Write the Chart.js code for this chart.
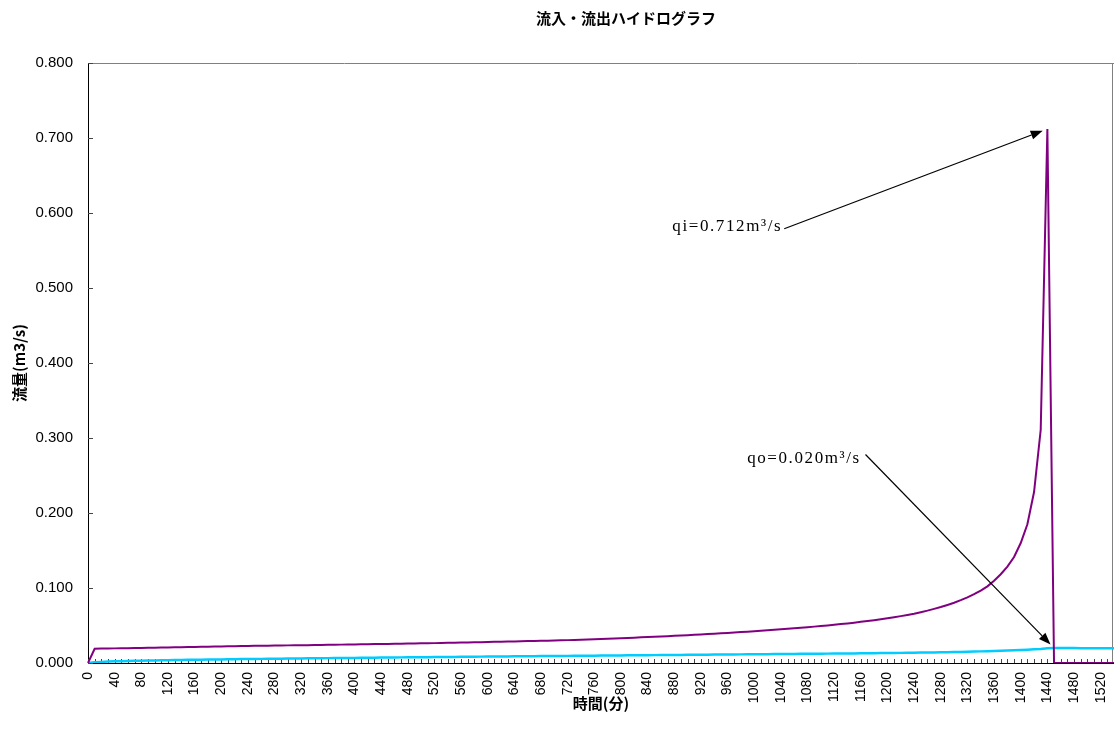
<!DOCTYPE html>
<html lang="ja">
<head>
<meta charset="utf-8">
<title>流入・流出ハイドログラフ</title>
<script src="https://cdn.jsdelivr.net/npm/chart.js@4.4.1/dist/chart.umd.min.js"></script>
<style>
    html, body { margin: 0; padding: 0; background: #fff; }
    canvas { display: block; }
</style>
</head>
<body>
<canvas id="hydroChart" width="1114" height="744"></canvas>
<script>
// 時間(分) — 10 minute steps
const minutes = [
    0, 10, 20, 30, 40, 50, 60, 70, 80, 90,
    100, 110, 120, 130, 140, 150, 160, 170, 180, 190,
    200, 210, 220, 230, 240, 250, 260, 270, 280, 290,
    300, 310, 320, 330, 340, 350, 360, 370, 380, 390,
    400, 410, 420, 430, 440, 450, 460, 470, 480, 490,
    500, 510, 520, 530, 540, 550, 560, 570, 580, 590,
    600, 610, 620, 630, 640, 650, 660, 670, 680, 690,
    700, 710, 720, 730, 740, 750, 760, 770, 780, 790,
    800, 810, 820, 830, 840, 850, 860, 870, 880, 890,
    900, 910, 920, 930, 940, 950, 960, 970, 980, 990,
    1000, 1010, 1020, 1030, 1040, 1050, 1060, 1070, 1080, 1090,
    1100, 1110, 1120, 1130, 1140, 1150, 1160, 1170, 1180, 1190,
    1200, 1210, 1220, 1230, 1240, 1250, 1260, 1270, 1280, 1290,
    1300, 1310, 1320, 1330, 1340, 1350, 1360, 1370, 1380, 1390,
    1400, 1410, 1420, 1430, 1440, 1450, 1460, 1470, 1480, 1490,
    1500, 1510, 1520, 1530, 1540
]

// 流入量 qi (m3/s)
const inflow = [
    0, 0.0190, 0.0192, 0.0193, 0.0195, 0.0196, 0.0198, 0.0199, 0.0201, 0.0203,
    0.0204, 0.0206, 0.0207, 0.0209, 0.0211, 0.0212, 0.0214, 0.0216, 0.0217, 0.0219,
    0.0221, 0.0223, 0.0224, 0.0226, 0.0228, 0.0229, 0.0230, 0.0231, 0.0233, 0.0234,
    0.0235, 0.0236, 0.0237, 0.0238, 0.0240, 0.0241, 0.0242, 0.0243, 0.0245, 0.0246,
    0.0247, 0.0249, 0.0250, 0.0252, 0.0253, 0.0254, 0.0256, 0.0258, 0.0259, 0.0261,
    0.0262, 0.0264, 0.0265, 0.0267, 0.0269, 0.0271, 0.0272, 0.0274, 0.0276, 0.0278,
    0.0280, 0.0282, 0.0284, 0.0286, 0.0288, 0.0290, 0.0292, 0.0294, 0.0296, 0.0298,
    0.0300, 0.0303, 0.0305, 0.0307, 0.0310, 0.0313, 0.0316, 0.0320, 0.0323, 0.0327,
    0.0330, 0.0334, 0.0338, 0.0342, 0.0346, 0.0350, 0.0354, 0.0358, 0.0362, 0.0367,
    0.0371, 0.0376, 0.0381, 0.0386, 0.0391, 0.0396, 0.0401, 0.0407, 0.0412, 0.0418,
    0.0424, 0.0430, 0.0437, 0.0443, 0.0450, 0.0457, 0.0463, 0.0470, 0.0477, 0.0485,
    0.0493, 0.0501, 0.0510, 0.0519, 0.0528, 0.0538, 0.0549, 0.0560, 0.0571, 0.0583,
    0.0596, 0.0610, 0.0625, 0.0641, 0.0658, 0.0678, 0.0698, 0.0722, 0.0746, 0.0774,
    0.0804, 0.0838, 0.0875, 0.0917, 0.0965, 0.1022, 0.1096, 0.1183, 0.1285, 0.1414,
    0.1600, 0.1850, 0.2280, 0.3110, 0.712, 0, 0, 0, 0, 0,
    0, 0, 0, 0, 0
]

// 流出量 qo (m3/s)
const outflow = [
    0, 0.0011, 0.0015, 0.0019, 0.0022, 0.0024, 0.0026, 0.0029, 0.0031, 0.0032,
    0.0034, 0.0036, 0.0037, 0.0039, 0.0040, 0.0042, 0.0043, 0.0044, 0.0046, 0.0047,
    0.0048, 0.0049, 0.0051, 0.0052, 0.0053, 0.0054, 0.0055, 0.0056, 0.0057, 0.0058,
    0.0059, 0.0060, 0.0061, 0.0062, 0.0063, 0.0064, 0.0065, 0.0066, 0.0067, 0.0067,
    0.0068, 0.0069, 0.0070, 0.0071, 0.0072, 0.0073, 0.0074, 0.0075, 0.0076, 0.0077,
    0.0077, 0.0078, 0.0079, 0.0080, 0.0081, 0.0081, 0.0082, 0.0083, 0.0084, 0.0085,
    0.0086, 0.0086, 0.0087, 0.0088, 0.0089, 0.0090, 0.0090, 0.0091, 0.0092, 0.0093,
    0.0094, 0.0094, 0.0095, 0.0096, 0.0097, 0.0098, 0.0098, 0.0099, 0.0100, 0.0101,
    0.0101, 0.0102, 0.0103, 0.0104, 0.0104, 0.0105, 0.0106, 0.0107, 0.0107, 0.0108,
    0.0109, 0.0110, 0.0110, 0.0111, 0.0112, 0.0113, 0.0113, 0.0114, 0.0115, 0.0116,
    0.0116, 0.0117, 0.0118, 0.0119, 0.0120, 0.0120, 0.0121, 0.0122, 0.0123, 0.0124,
    0.0124, 0.0125, 0.0126, 0.0127, 0.0128, 0.0128, 0.0129, 0.0130, 0.0131, 0.0132,
    0.0133, 0.0134, 0.0135, 0.0136, 0.0137, 0.0139, 0.0140, 0.0141, 0.0143, 0.0144,
    0.0146, 0.0148, 0.0150, 0.0152, 0.0155, 0.0157, 0.0160, 0.0163, 0.0166, 0.0169,
    0.0173, 0.0177, 0.0182, 0.0188, 0.0197, 0.0200, 0.0200, 0.0199, 0.0199, 0.0198,
    0.0198, 0.0197, 0.0197, 0.0196, 0.0196
]

const yTicks = [0, 0.1, 0.2, 0.3, 0.4, 0.5, 0.6, 0.7, 0.8]

// callouts: text anchored by its right edge (category index, value), arrow to a data point
const callouts = [
    { text: 'qi=0.712m³/s', series: inflow, index: 144, at: [104.2, 0.582], from: [104.5, 0.579] },
    { text: 'qo=0.020m³/s', series: outflow, index: 145, at: [116.0, 0.272], from: [116.7, 0.278] },
]

const jpFont = '"Noto Sans CJK JP", "Noto Sans", sans-serif'
const numFont = '"Liberation Sans", Arial, sans-serif'

const plotFrame = {
    id: 'plotFrame',
    beforeDatasetsDraw(chart) {
        const { ctx, chartArea: a, scales: { x, y } } = chart
        ctx.save()
        ctx.lineWidth = 1
        ctx.strokeStyle = '#808080'
        ctx.beginPath()
        ctx.moveTo(a.left, a.top + 0.5)
        ctx.lineTo(a.right, a.top + 0.5)
        ctx.moveTo(a.right - 1.5, a.top)
        ctx.lineTo(a.right - 1.5, a.bottom)
        ctx.stroke()

        // tick marks inside the plot, Excel style
        ctx.strokeStyle = '#444'
        ctx.beginPath()
        minutes.forEach((m, i) => {
            const px = Math.round(x.getPixelForValue(i)) + 0.5
            ctx.moveTo(px, a.bottom)
            ctx.lineTo(px, a.bottom - 4)
        })
        yTicks.forEach(v => {
            const py = Math.round(y.getPixelForValue(v)) + 0.5
            ctx.moveTo(a.left, py)
            ctx.lineTo(a.left + 5, py)
        })
        ctx.stroke()
        ctx.restore()
    },
    afterDraw(chart) {
        const { ctx, scales: { x, y } } = chart
        ctx.save()

        ctx.fillStyle = '#000'
        ctx.font = 'bold 15px ' + jpFont
        ctx.textAlign = 'center'
        ctx.textBaseline = 'middle'
        ctx.fillText('流入・流出ハイドログラフ', 626, 18)

        callouts.forEach(c => {
            const tx = x.getPixelForValue(c.at[0])
            const ty = y.getPixelForValue(c.at[1])
            ctx.font = '17px "Liberation Serif", "DejaVu Serif", serif'
            ctx.letterSpacing = '1.6px'
            ctx.textAlign = 'right'
            ctx.textBaseline = 'middle'
            ctx.fillText(c.text, tx, ty)
            ctx.letterSpacing = '0px'

            const sx = x.getPixelForValue(c.from[0])
            const sy = y.getPixelForValue(c.from[1])
            const px = x.getPixelForValue(c.index)
            const py = y.getPixelForValue(c.series[c.index])
            const len = Math.hypot(px - sx, py - sy)
            const ux = (px - sx) / len
            const uy = (py - sy) / len
            const ex = px - ux * 5
            const ey = py - uy * 5
            const head = 12
            const half = 4.5
            const bx = ex - ux * head
            const by = ey - uy * head

            ctx.strokeStyle = '#000'
            ctx.lineWidth = 1.2
            ctx.beginPath()
            ctx.moveTo(sx, sy)
            ctx.lineTo(bx, by)
            ctx.stroke()

            ctx.beginPath()
            ctx.moveTo(ex, ey)
            ctx.lineTo(bx - uy * half, by + ux * half)
            ctx.lineTo(bx + uy * half, by - ux * half)
            ctx.closePath()
            ctx.fill()
        })
        ctx.restore()
    }
}

const canvas = document.getElementById('hydroChart')

new Chart(canvas, {
    type: 'line',
    data: {
        labels: minutes,
        datasets: [
            {
                label: 'qi',
                data: inflow,
                borderColor: '#800080',
                borderWidth: 2,
                pointRadius: 0,
                tension: 0,
                fill: false,
            },
            {
                label: 'qo',
                data: outflow,
                borderColor: '#00CCFF',
                borderWidth: 2.5,
                pointRadius: 0,
                tension: 0,
                fill: false,
            },
        ]
    },
    options: {
        responsive: false,
        animation: false,
        devicePixelRatio: 1,
        layout: { padding: { top: 63, right: 0, bottom: 0, left: 0 } },
        plugins: {
            legend: { display: false },
            tooltip: { enabled: false },
        },
        scales: {
            x: {
                type: 'category',
                offset: false,
                grid: { display: true, drawOnChartArea: false, drawTicks: false },
                border: { color: '#000', width: 1 },
                ticks: {
                    autoSkip: false,
                    maxRotation: 90,
                    minRotation: 90,
                    padding: 9,
                    color: '#000',
                    font: { family: numFont, size: 14 },
                    callback: (v, i) => (i % 4 === 0 ? String(minutes[i]) : ''),
                },
                title: {
                    display: true,
                    text: '時間(分)',
                    color: '#000',
                    font: { family: jpFont, size: 15, weight: 'bold' },
                    padding: { top: 0, bottom: 32 },
                },
                afterFit: s => {
                    s.height = 81
                    s.paddingLeft = 0
                    s.paddingRight = 0
                },
            },
            y: {
                min: 0,
                max: 0.8,
                grid: { display: true, drawOnChartArea: false, drawTicks: false },
                border: { color: '#000', width: 1 },
                ticks: {
                    stepSize: 0.1,
                    padding: 15,
                    color: '#000',
                    font: { family: numFont, size: 15 },
                    callback: v => v.toFixed(3),
                },
                title: {
                    display: true,
                    text: '流量(m3/s)',
                    color: '#000',
                    font: { family: jpFont, size: 15, weight: 'bold' },
                    padding: { top: 10, bottom: 0 },
                },
                afterFit: s => {
                    s.width = 88
                    s.paddingTop = 0
                    s.paddingBottom = 0
                },
            },
        },
    },
    plugins: [plotFrame],
})
</script>
</body>
</html>
